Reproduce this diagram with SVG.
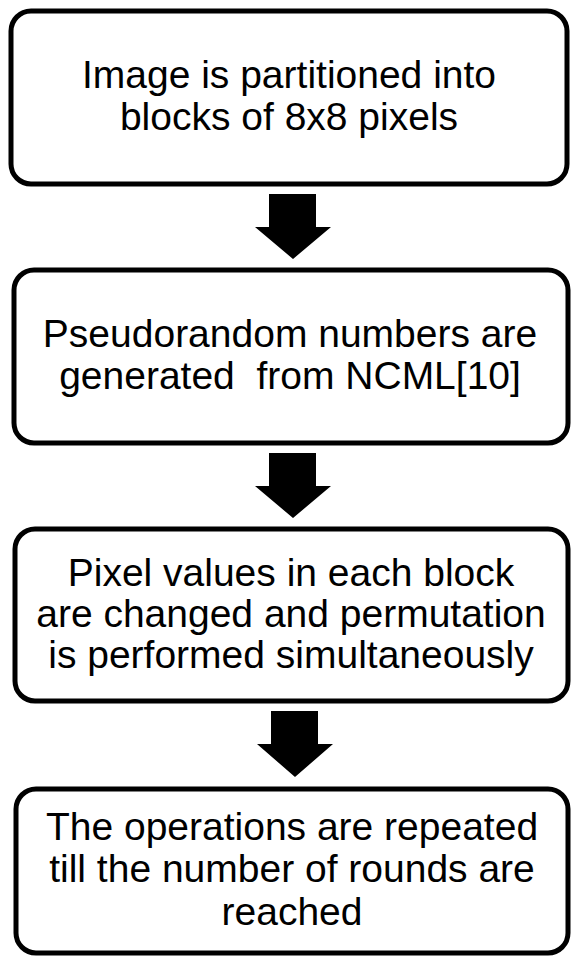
<svg xmlns="http://www.w3.org/2000/svg" width="571" height="957" viewBox="0 0 571 957">
<style>
.box{fill:#fff;stroke:#000;stroke-width:5}
.t{font-family:"Liberation Sans",Arial,sans-serif;font-size:39px;fill:#000;text-anchor:middle;white-space:pre}
.arr{fill:#000}
</style>
<rect width="571" height="957" fill="#fff"/>
<g id="connectors">
<polygon class="arr" points="269,194 316,194 316,227 331,227 293,259 255,227 269,227"/>
<polygon class="arr" points="269,453 316,453 316,486 331,486 293,518 255,486 269,486"/>
<polygon class="arr" points="271,711 318,711 318,744 333,744 295,777 257,744 271,744"/>
</g>
<g id="node1">
<rect class="box" x="11" y="11" width="556" height="173" rx="20"/>
<text class="t" x="289" y="88">Image is partitioned into</text>
<text class="t" x="289" y="130">blocks of 8x8 pixels</text>
</g>
<g id="node2">
<rect class="box" x="14" y="270" width="554" height="173" rx="20"/>
<text class="t" x="290" y="347">Pseudorandom numbers are</text>
<text class="t" x="290" y="389" xml:space="preserve">generated  from NCML[10]</text>
</g>
<g id="node3">
<rect class="box" x="15" y="529" width="553" height="172" rx="20"/>
<text class="t" x="291" y="586">Pixel values in each block</text>
<text class="t" x="291" y="627">are changed and permutation</text>
<text class="t" x="291" y="668">is performed simultaneously</text>
</g>
<g id="node4">
<rect class="box" x="16" y="789" width="552" height="164" rx="20"/>
<text class="t" x="292" y="840">The operations are repeated</text>
<text class="t" x="292" y="882">till the number of rounds are</text>
<text class="t" x="292" y="925">reached</text>
</g>
</svg>
